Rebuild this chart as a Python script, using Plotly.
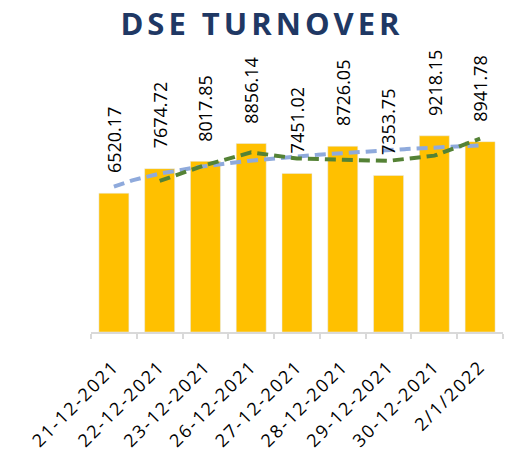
import numpy as np
import plotly.graph_objects as go

categories = ["21-12-2021", "22-12-2021", "23-12-2021", "26-12-2021", "27-12-2021",
              "28-12-2021", "29-12-2021", "30-12-2021", "2/1/2022"]
turnover = [6520.17, 7674.72, 8017.85, 8856.14, 7451.02, 8726.05, 7353.75, 9218.15, 8941.78]

n = len(categories)
xs = list(range(n))

# Logarithmic trendline (as Excel computes it) and 2-period moving average
coef = np.polyfit(np.log(np.arange(1, n + 1)), turnover, 1)
t = np.linspace(1, n, 200)
log_trend = coef[0] * np.log(t) + coef[1]
ma_x = xs[1:]
ma_y = [(turnover[i - 1] + turnover[i]) / 2 for i in range(1, n)]

fig = go.Figure()
fig.add_trace(go.Bar(x=xs, y=turnover, width=0.655, marker=dict(color="#FFC000"),
                     showlegend=False, hoverinfo="skip"))
fig.add_trace(go.Scatter(x=t - 1, y=log_trend, mode="lines",
                         line=dict(color="#8FAADC", width=4, dash="11px,6px"),
                         showlegend=False, hoverinfo="skip"))
fig.add_trace(go.Scatter(x=ma_x, y=ma_y, mode="lines",
                         line=dict(color="#548235", width=4, dash="11px,6px"),
                         showlegend=False, hoverinfo="skip"))

for i, v in enumerate(turnover):
    fig.add_annotation(x=i, y=v, text=f"{v:.2f}", textangle=-90, showarrow=False,
                       xanchor="center", yanchor="bottom", yshift=18,
                       font=dict(family="Open Sans", size=18, color="#000000"))

tick_text = [f"<span style='letter-spacing:2px'>{c}</span>" for c in categories]

fig.update_layout(
    width=508, height=458,
    margin=dict(l=83, r=13, t=26, b=134, autoexpand=False),
    paper_bgcolor="white", plot_bgcolor="white",
    title=dict(text="<span style='letter-spacing:4px'><b>DSE TURNOVER</b></span>",
               x=0.5, xanchor="center",
               y=1 - 16 / 458, yanchor="middle", yref="container",
               font=dict(family="Open Sans", size=31, color="#1F3864")),
    xaxis=dict(range=[-0.5, n - 0.5], tickvals=xs, ticktext=tick_text,
               tickangle=-45, ticks="", showgrid=False, zeroline=False, automargin=False,
               showline=True, linecolor="#D9D9D9", linewidth=1.5, ticklabelstandoff=15,
               tickfont=dict(family="Open Sans", size=18, color="#000000"),
               minor=dict(tickvals=[i - 0.5 for i in range(n + 1)], ticks="outside",
                          ticklen=5, tickcolor="#D9D9D9", tickwidth=1.5, showgrid=False)),
    yaxis=dict(range=[0, 14000], visible=False, showgrid=False, zeroline=False,
               automargin=False),
)

fig.write_html("out.html")
